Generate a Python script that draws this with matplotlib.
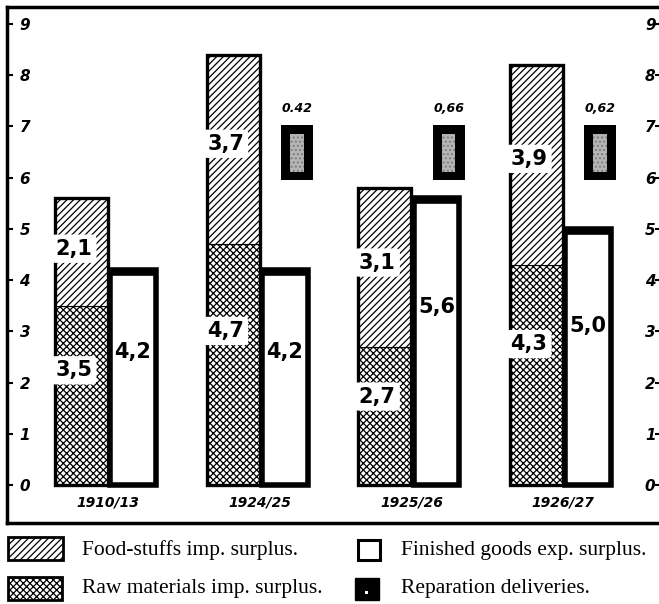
import matplotlib
matplotlib.use('Agg')
import matplotlib.pyplot as plt
from matplotlib.patches import Rectangle

# ---------------- data ----------------
periods = ['1910/13', '1924/25', '1925/26', '1926/27']
raw_materials = [3.5, 4.7, 2.7, 4.3]
food_stuffs = [2.1, 3.7, 3.1, 3.9]
finished_goods = [4.2, 4.2, 5.6, 5.0]
reparation = [None, 0.42, 0.66, 0.62]
reparation_labels = ['', '0.42', '0,66', '0,62']
y_ticks = [0, 1, 2, 3, 4, 5, 6, 7, 8, 9]

legend_labels = ['Food-stuffs imp. surplus.', 'Raw materials imp. surplus.',
                 'Finished goods exp. surplus.', 'Reparation deliveries.']


def fmt(v):
    return f'{v:.1f}'.replace('.', ',')


# ---------------- figure ----------------
W, H = 659, 604
fig = plt.figure(figsize=(W / 100, H / 100), dpi=100)
plt.rcParams['hatch.linewidth'] = 0.9

ax_l, ax_r, ax_t, ax_b = 7, 659, 6.5, 523
ax = fig.add_axes([ax_l / W, 1 - ax_b / H, (ax_r - ax_l) / W, (ax_b - ax_t) / H])
ax.set_xlim(-0.666, 3.632)
ax.set_ylim(-0.74, 9.34)

num_font = dict(family='DejaVu Sans', weight='bold')
tick_font = dict(family='DejaVu Sans', weight='bold', style='italic')

x = list(range(len(periods)))
xs = [i - 0.175 for i in x]      # stacked bar
xf = [i + 0.165 for i in x]      # finished goods bar
xr = [i + 0.245 for i in x]      # reparation symbol

# stacked import bars
ax.bar(xs, raw_materials, width=0.35, color='white', edgecolor='black',
       hatch='xxxxx', linewidth=0.8, zorder=2)
ax.bar(xs, food_stuffs, bottom=raw_materials, width=0.35, color='white',
       edgecolor='black', hatch='/////', linewidth=0.8, zorder=2)
totals = [r + f for r, f in zip(raw_materials, food_stuffs)]
ax.bar(xs, totals, width=0.35, fill=False, edgecolor='black', linewidth=2.4, zorder=3)

# finished goods bars
ax.bar(xf, finished_goods, width=0.30, color='white', edgecolor='black',
       linewidth=4, zorder=4)
for xi, v in zip(xf, finished_goods):
    ax.plot([xi - 0.165, xi + 0.165], [v - 0.04, v - 0.04], color='black',
            lw=5.5, solid_capstyle='butt', zorder=5)

# value labels
blob = dict(boxstyle='round,pad=0.2', fc='white', ec='none')
for xi, r, f in zip(xs, raw_materials, food_stuffs):
    ax.text(xi - 0.05, r * 0.64, fmt(r), ha='center', va='center', fontsize=15,
            zorder=6, bbox=blob, **num_font)
    ax.text(xi - 0.05, r + f * 0.53, fmt(f), ha='center', va='center', fontsize=15,
            zorder=6, bbox=blob, **num_font)
for xi, v in zip(xf, finished_goods):
    ax.text(xi, v * 0.62, fmt(v), ha='center', va='center', fontsize=15,
            zorder=6, **num_font)

# reparation deliveries symbols
REP_Y, REP_H = 5.95, 1.07
for xi, v, lab in zip(xr, reparation, reparation_labels):
    if v is None:
        continue
    ax.bar(xi, REP_H, bottom=REP_Y, width=0.21, color='black', zorder=4)
    ax.bar(xi, REP_H * 0.7, bottom=REP_Y + REP_H * 0.15, width=0.09,
           color='#b5b5b5', edgecolor='#7a7a7a', hatch='....', linewidth=0,
           zorder=5)
    ax.text(xi, 7.35, lab, ha='center', va='center', fontsize=9, zorder=6,
            **tick_font)

# axes styling
for s in ['left', 'top', 'bottom']:
    ax.spines[s].set_linewidth(2.5)
ax.spines['right'].set_visible(False)

ax.set_yticks(y_ticks)
ax.set_yticklabels([str(t) for t in y_ticks], fontsize=11, **tick_font)
ax.tick_params(axis='y', direction='in', length=4, width=1.5, pad=-9)
for lbl in ax.get_yticklabels():
    lbl.set_horizontalalignment('left')

ax.set_xticks(x)
ax.set_xticklabels(periods, fontsize=10, **tick_font)
ax.tick_params(axis='x', length=0, pad=-20)

ax2 = ax.twinx()
ax2.set_ylim(ax.get_ylim())
ax2.set_yticks(y_ticks)
ax2.set_yticklabels([str(t) for t in y_ticks], fontsize=11, **tick_font)
ax2.tick_params(axis='y', direction='in', length=3, width=1.5, pad=-2.5)
for lbl in ax2.get_yticklabels():
    lbl.set_horizontalalignment('right')
for s in ax2.spines.values():
    s.set_visible(False)


# ---------------- legend (below the frame) ----------------
def fig_rect(x0, y0, w, h, **kw):
    r = Rectangle((x0 / W, 1 - (y0 + h) / H), w / W, h / H,
                  transform=fig.transFigure, **kw)
    fig.add_artist(r)
    return r


fig_rect(8, 537, 55, 23, facecolor='white', edgecolor='black', hatch='/////', linewidth=2)
fig_rect(8, 577, 54, 23, facecolor='white', edgecolor='black', hatch='xxxxx', linewidth=2)
fig_rect(358, 540, 22, 20, facecolor='white', edgecolor='black', linewidth=2.2)
fig_rect(355, 578, 24, 22, facecolor='black', edgecolor='black', linewidth=1)
fig_rect(365, 591, 3, 3, facecolor='white', edgecolor='none')

leg_font = dict(family='Liberation Serif', fontsize=15.5, va='center', ha='left')
fig.text(82 / W, 1 - 550 / H, legend_labels[0], **leg_font)
fig.text(82 / W, 1 - 589 / H, legend_labels[1], **leg_font)
fig.text(401 / W, 1 - 550 / H, legend_labels[2], **leg_font)
fig.text(401 / W, 1 - 589 / H, legend_labels[3], **leg_font)

fig.savefig('out.png', dpi=100)
